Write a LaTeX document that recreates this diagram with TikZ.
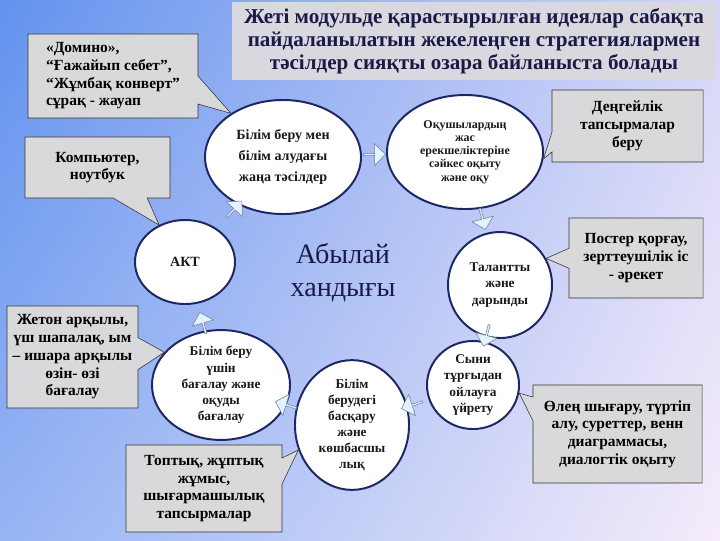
\documentclass[tikz,border=0pt]{standalone}
\usepackage{fontspec}
\setmainfont{Liberation Serif}
\usetikzlibrary{shapes.geometric,shapes.callouts,shapes.arrows,shadings,calc}

\definecolor{bgtl}{RGB}{98,146,238}
\definecolor{bgtr}{RGB}{212,214,248}
\definecolor{bgbl}{RGB}{150,180,244}
\definecolor{bgbr}{RGB}{246,236,250}
\definecolor{rimblue}{RGB}{30,38,100}
\definecolor{notegray}{RGB}{217,217,219}
\definecolor{titlegray}{RGB}{216,216,222}
\definecolor{titleink}{RGB}{26,26,72}
\definecolor{arrowfill}{RGB}{226,244,250}
\definecolor{arrowedge}{RGB}{110,130,160}

\begin{document}
\begin{tikzpicture}[x=0.025cm, y=-0.025cm,
  idea/.style={ellipse, draw=rimblue, line width=1.4pt, fill=white, inner sep=0pt,
    align=center, text=black!90},
  note/.style={rectangle callout, draw=black!80, fill=notegray, inner sep=0pt,
    callout pointer width=0.6cm,
    align=center, font=\bfseries\fontsize{11}{12.6}\selectfont},
  blockarrow/.style={single arrow, draw=arrowedge, fill=arrowfill, inner sep=0pt,
    minimum height=0.55cm, minimum width=0.55cm, single arrow head extend=0.07cm}]

\useasboundingbox (0,0) rectangle (720,540);
\shade [upper left=bgtl, upper right=bgtr, lower left=bgbl, lower right=bgbr]
  (0,0) rectangle (720,540);

\node [fill=titlegray, minimum width=12.1cm, minimum height=1.95cm, align=center,
  text=titleink, font=\bfseries\fontsize{15}{16.5}\selectfont] (title) at (474,41)
  {Жеті модульде қарастырылған идеялар сабақта\\
   пайдаланылатын жекелеңген стратегиялармен\\
   тәсілдер сияқты озара байланыста болады};

\node [idea, minimum width=3.9cm, minimum height=2.85cm,
  font=\bfseries\fontsize{10}{15}\selectfont] (e1) at (283,157)
  {Білім беру мен\\білім алудағы\\жаңа тәсілдер};
\node [idea, minimum width=3.9cm, minimum height=2.85cm,
  font=\bfseries\fontsize{8.5}{9.4}\selectfont] (e2) at (465,152)
  {Оқушылардың\\жас\\ерекшеліктеріне\\сәйкес оқыту\\және оқу};
\node [idea, minimum width=2.6cm, minimum height=2.65cm,
  font=\bfseries\fontsize{9.5}{12}\selectfont] (e3) at (500,285)
  {Талантты\\және\\дарынды};
\node [idea, minimum width=2.3cm, minimum height=2.2cm,
  font=\bfseries\fontsize{9.5}{11.5}\selectfont] (e4) at (473,385)
  {Сыни\\тұрғыдан\\ойлауға\\үйрету};
\node [idea, minimum width=2.85cm, minimum height=2.75cm,
  font=\bfseries\fontsize{9.5}{11.4}\selectfont] (e5) at (352,425)
  {Білім\\берудегі\\басқару\\және\\көшбасшы\\лық};
\node [idea, minimum width=3.45cm, minimum height=2.6cm,
  font=\bfseries\fontsize{9.5}{11.6}\selectfont] (e6) at (221,385)
  {Білім беру\\үшін\\бағалау және\\оқуды\\бағалау};
\node [idea, minimum width=2.5cm, minimum height=2.1cm,
  font=\bfseries\fontsize{10}{12}\selectfont] (e7) at (185,262) {АКТ};

\foreach \a/\b in {e1/e2,e2/e3,e3/e4,e4/e5,e5/e6,e6/e7,e7/e1}
  \path let \p1=($(\b)-(\a)$), \n1={atan2(\y1,\x1)} in
    node [blockarrow, rotate=\n1] at ($(\a)!.5!(\b)$) {};

\node [text=titleink, align=center, font=\fontsize{20}{23.5}\selectfont] (khan)
  at (343,273) {Абылай\\хандығы};

\node [note, align=left, minimum width=4.25cm, minimum height=2.1cm,
  callout pointer width=0.7cm, callout absolute pointer={(e1.140)}] (nA) at (113,76)
  {«Домино»,\\“Ғажайып себет”,\\“Жұмбақ конверт”\\сұрақ - жауап};
\node [note, minimum width=3.625cm, minimum height=1.525cm,
  callout pointer width=0.85cm, callout absolute pointer={(e7.125)}] (nB) at (97.5,167.5)
  {Компьютер,\\ноутбук};
\node [note, minimum width=3.775cm, minimum height=1.8cm,
  callout pointer width=0.5cm, callout absolute pointer={(e2.355)}] (nC) at (627.5,126)
  {Деңгейлік\\тапсырмалар\\беру};
\node [note, minimum width=3.35cm, minimum height=2cm,
  callout pointer width=0.5cm, callout absolute pointer={(e3.30)}] (nD) at (636,258)
  {Постер қорғау,\\зерттеушілік іс\\- әрекет};
\node [note, minimum width=3.275cm, minimum height=2.55cm,
  callout pointer width=0.8cm, callout absolute pointer={(e6.150)}] (nE) at (72.5,357)
  {Жетон арқылы,\\үш шапалақ, ым\\– ишара арқылы\\өзін- өзі\\бағалау};
\node [note, minimum width=4.225cm, minimum height=2.45cm,
  callout absolute pointer={(e4.350)}] (nF) at (617.5,434)
  {Өлең шығару, түртіп\\алу, суреттер, венн\\диаграммасы,\\диалогтік оқыту};
\node [note, minimum width=3.9cm, minimum height=2.175cm,
  callout pointer width=0.65cm, callout absolute pointer={(e5.205)}] (nG) at (204,488.5)
  {Топтық, жұптық\\жұмыс,\\шығармашылық\\тапсырмалар};

\end{tikzpicture}
\end{document}
